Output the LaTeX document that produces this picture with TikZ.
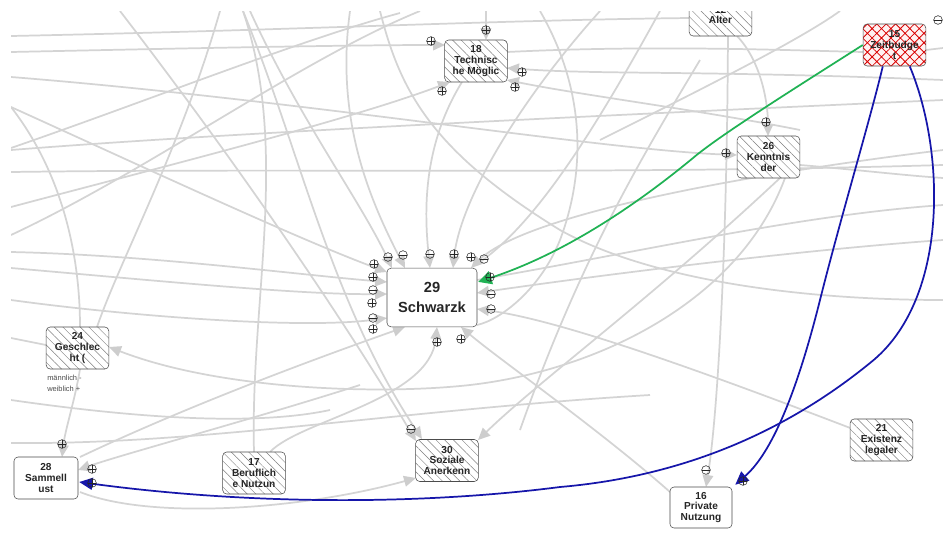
\documentclass[tikz,border=0pt]{standalone}
\usepackage{fontspec}
\setmainfont{Liberation Sans}
\usetikzlibrary{arrows.meta,patterns.meta,calc}
\definecolor{lg}{RGB}{212,212,212}
\definecolor{ah}{RGB}{205,205,205}
\definecolor{bl}{RGB}{22,22,170}
\definecolor{gr}{RGB}{32,178,84}
\begin{document}
\begin{tikzpicture}[x=0.75pt,y=-0.75pt,
  gl/.style={draw=lg,line width=1.3pt},
  ga/.style={gl,-{Triangle[length=9pt,width=8pt,color=ah]}},
  box/.style={draw=black!70,rounded corners=3pt,minimum width=47pt,minimum height=31.5pt,inner sep=0pt,align=center,font=\bfseries\fontsize{7.6}{8.2}\selectfont,text=black!85},
  hatchbox/.style={box,preaction={fill=white},pattern={Lines[angle=-45,distance=4.6pt,line width=0.35pt]},pattern color=gray},
  redbox/.style={box,preaction={fill=red!5},pattern={Hatch[angle=45,distance=5pt,line width=0.6pt]},pattern color=red!85!black},
  plainbox/.style={box,fill=white},
  signp/.style={circle,draw=black!85,line width=0.4pt,minimum size=6.5pt,inner sep=0pt,
    path picture={\draw[black!85,line width=0.4pt] (path picture bounding box.north)--(path picture bounding box.south) (path picture bounding box.west)--(path picture bounding box.east);}},
  signm/.style={circle,draw=black!85,line width=0.4pt,minimum size=6.5pt,inner sep=0pt,
    path picture={\draw[black!85,line width=0.4pt] (path picture bounding box.west)--(path picture bounding box.east);}},
  blue/.style={draw=bl,line width=1.3pt,-{Triangle[length=10pt,width=9pt]}},
  green/.style={draw=gr,line width=1.3pt,-{Triangle[length=10pt,width=10pt]}}
]
\useasboundingbox (0,0) rectangle (943,533);
\fill[white] (0,0) rectangle (943,533);
\begin{scope}
\clip (11,11) rectangle (943,533);

\path
  (476,61) coordinate (c18) (720.5,15) coordinate (c12) (894.5,45) coordinate (c15)
  (768.5,157) coordinate (c26) (432,297.5) coordinate (c29) (77.5,348) coordinate (c24)
  (46,478) coordinate (c28) (254,473) coordinate (c17) (447,460.5) coordinate (c30)
  (701,507.5) coordinate (c16) (881.5,440) coordinate (c21);

% gray connectors
\draw[ga] (11,107) .. controls (150,170) and (300,240) .. (387,272);
\draw[ga] (11,252) .. controls (150,255) and (300,275) .. (387,282);
\draw[ga] (11,268) .. controls (150,280) and (300,295) .. (387,294);
\draw[ga] (11,300) .. controls (120,315) and (300,330) .. (387,318);
\draw[ga] (250,11) .. controls (300,120) and (360,200) .. (392,268);
\draw[ga] (350,11) .. controls (335,120) and (370,200) .. (405,268);
\draw[ga] (462,82) .. controls (420,150) and (425,220) .. (430,268);
\draw[ga] (600,11) .. controls (520,100) and (460,200) .. (453,268);
\draw[ga] (943,150) .. controls (700,180) and (520,220) .. (471,268);
\draw[ga] (943,240) .. controls (800,250) and (600,275) .. (477,293);
\draw[ga] (c21) .. controls (700,370) and (560,320) .. (477,309);
\draw[ga] (80,457) .. controls (200,400) and (340,350) .. (405,327);
\draw[ga] (270,452) .. controls (300,420) and (430,400) .. (437,327);
\draw[ga] (670,492) .. controls (600,430) and (500,360) .. (461,327);
\draw[ga] (120,11) .. controls (250,180) and (350,330) .. (416,441);
\draw[ga] (243,11) .. controls (300,150) and (330,300) .. (422,439);
\draw[ga] (780,178) .. controls (650,300) and (540,380) .. (478,440);
\draw[ga] (80,492) .. controls (150,520) and (300,510) .. (416,478);
\draw[ga] (785,178) .. controls (740,300) and (600,370) .. (470,385) .. controls (380,395) and (220,390) .. (109,347);
\draw[gl] (11,107) .. controls (60,170) and (80,250) .. (80,327);
\draw[gl] (220,11) .. controls (180,150) and (120,260) .. (97,327);
\draw[gl] (11,338) -- (46,345);
\draw[ga] (80,369) .. controls (75,400) and (65,430) .. (62,457);
\draw[ga] (360,385) .. controls (250,420) and (120,455) .. (78,470);
\draw[gl] (11,443) .. controls (200,445) and (400,410) .. (650,395);
\draw[ga] (11,77) .. controls (300,100) and (600,150) .. (737,155);
\draw[ga] (737,36) .. controls (760,60) and (768,100) .. (768,136);
\draw[ga] (11,52) .. controls (200,48) and (350,45) .. (445,45);
\draw[ga] (486,11) -- (486,40);
\draw[ga] (943,80) .. controls (700,70) and (600,75) .. (507,68);
\draw[ga] (800,130) .. controls (700,110) and (580,95) .. (507,80);
\draw[ga] (11,207) .. controls (150,170) and (350,120) .. (450,82);
\draw[ga] (728,11) .. controls (728,200) and (720,400) .. (706,487);
\draw[gl] (243,11) .. controls (290,150) and (250,300) .. (254,452);
\draw[gl] (11,36) .. controls (300,30) and (500,20) .. (690,18);
\draw[gl] (11,235) .. controls (150,170) and (300,60) .. (420,11);
\draw[gl] (11,148) .. controls (150,100) and (300,40) .. (400,13);
\draw[gl] (11,172) .. controls (300,168) and (600,175) .. (943,165);
\draw[gl] (11,150) .. controls (200,135) and (500,120) .. (943,100);
\draw[gl] (507,52) .. controls (650,45) and (780,50) .. (863,52);
\draw[gl] (600,140) .. controls (700,90) and (800,40) .. (840,11);
\draw[gl] (380,11) .. controls (400,90) and (430,150) .. (560,230) .. controls (650,280) and (800,300) .. (943,300);
\draw[gl] (11,400) .. controls (150,420) and (260,425) .. (330,410);
\draw[gl] (926,50) -- (943,48);
% extra arcs in the upper middle
\draw[gl] (660,11) .. controls (600,120) and (540,220) .. (480,262);
\draw[gl] (540,11) .. controls (580,80) and (590,160) .. (560,240) .. controls (540,290) and (500,320) .. (477,325);
\draw[gl] (700,60) .. controls (640,160) and (580,260) .. (520,430);
\draw[gl] (477,280) .. controls (650,250) and (800,215) .. (943,205);
\draw[gl] (800,165) .. controls (860,170) and (900,175) .. (943,178);

% nodes
\node[hatchbox] (n18) at (c18) {18\\Technisc\\he Möglic};
\node[hatchbox] (n12) at (c12) {12\\Alter};
\node[redbox] (n15) at (c15) {15\\Zeitbudge\\t};
\node[hatchbox] (n26) at (c26) {26\\Kenntnis\\der};
\node[plainbox,minimum width=67.5pt,minimum height=44pt,font=\bfseries\fontsize{11}{15.5}\selectfont] (n29) at (c29) {29\\Schwarzk};
\node[hatchbox] (n24) at (c24) {24\\Geschlec\\ht (};
\node[anchor=north west,align=left,inner sep=0pt,text=black!70,font=\fontsize{5.6}{8}\selectfont] (lab24) at (47,375) {männlich -\\weiblich +};
\node[plainbox,minimum width=48pt] (n28) at (c28) {28\\Sammell\\ust};
\node[hatchbox] (n17) at (c17) {17\\Beruflich\\e Nutzun};
\node[hatchbox] (n30) at (c30) {30\\Soziale\\Anerkenn};
\node[plainbox,minimum width=46.5pt,minimum height=30.75pt] (n16) at (c16) {16\\Private\\Nutzung};
\node[hatchbox] (n21) at (c21) {21\\Existenz\\legaler};

% coloured connectors
\draw[green] (n15.west) .. controls (800,85) and (720,135) .. (693,158) .. controls (630,210) and (560,255) .. ($(n29.north east)+(1,14)$);
\draw[blue] ($(n15.south west)+(20,0)$) .. controls (870,120) and (840,220) .. (820,300) .. controls (800,380) and (775,450) .. ($(n16.north east)+(3,-2)$);
\draw[blue] ($(n15.south west)+(47,0)$) .. controls (945,150) and (950,300) .. (870,363) .. controls (800,420) and (700,475) .. (560,487) .. controls (420,505) and (250,505) .. ($(n28.east)+(1,4)$);

% signs
\foreach \p [count=\i] in {(431,41),(486,30),(522,72),(515,87),(442,91),(766,122),(726,153),(374,264),(373,277),(372,303),(373,329),(454,254),(471,257),(490,277),(437,342),(461,339),(62,444),(92,469),(92,483),(743,481)}
  \node[signp] (sp\i) at \p {};
\foreach \p [count=\i] in {(938,20),(388,257),(403,255),(430,254),(484,259),(373,290),(373,318),(491,294),(491,309),(411,429),(706,470)}
  \node[signm] (sm\i) at \p {};
\end{scope}
\end{tikzpicture}
\end{document}
